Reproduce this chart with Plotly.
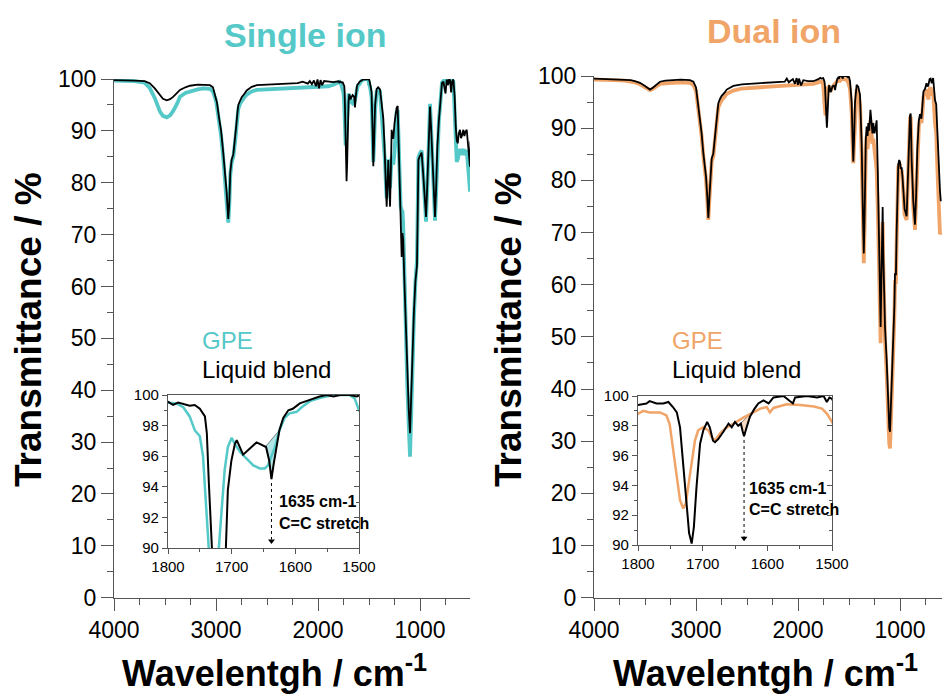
import numpy as np
import plotly.graph_objects as go

# ---------------- data (wavenumber cm-1, transmittance %) ----------------
single_liquid = [
    (4000, 99.8), (3900, 99.8), (3800, 99.7), (3700, 99.6), (3650, 99.2), (3600, 98.2),
    (3550, 96.9), (3520, 96.2), (3483, 95.9), (3450, 96.1), (3418, 96.6), (3380, 97.4),
    (3353, 97.9), (3300, 98.4), (3255, 98.7), (3180, 98.9), (3124, 98.9), (3059, 98.8),
    (3030, 98.4), (3000, 96.5), (2990, 95.4), (2970, 92.5), (2950, 90.0), (2930, 86.0),
    (2910, 81.5), (2895, 78.0), (2880, 73.0), (2870, 76.0), (2860, 82.0), (2846, 84.5),
    (2830, 85.5), (2815, 88.0), (2804, 90.5), (2790, 93.5), (2781, 95.0), (2760, 96.0),
    (2748, 96.5), (2720, 97.2), (2699, 97.8), (2650, 98.5), (2600, 98.8), (2500, 98.9),
    (2400, 99.0), (2300, 99.1), (2200, 99.2), (2150, 99.5), (2100, 99.1), (2080, 99.6),
    (2060, 99.0), (2040, 99.7), (2020, 98.6), (2005, 99.9), (1990, 98.2), (1975, 99.8),
    (1960, 98.8), (1940, 99.6), (1900, 99.5), (1850, 99.4),
    (1800, 99.55), (1792, 99.35), (1784, 99.5), (1776, 99.4), (1766, 99.3), (1758, 99.35),
    (1750, 99.1), (1742, 98.6), (1739, 97.5), (1736, 94.4), (1732, 89.0), (1726, 83.0),
    (1720, 80.3), (1714, 84.0), (1709, 90.1), (1706, 93.8), (1700.5, 95.7), (1695, 96.8),
    (1692, 97.05), (1687.5, 96.6), (1682, 96.1), (1674, 96.4), (1666, 96.7), (1661, 96.9),
    (1656, 96.8), (1651, 96.7), (1646, 96.6), (1641, 95.7), (1637.5, 94.5), (1634, 95.5),
    (1630, 96.6), (1625, 97.7), (1619, 98.5), (1611, 99.0), (1604, 99.1), (1593, 99.45),
    (1583, 99.6), (1562, 99.9), (1551, 100.0), (1540, 99.9), (1530, 100.0), (1515, 100.0),
    (1503, 99.9), (1500, 100.0),
    (1490, 99.2), (1475, 97.5), (1465, 90.0), (1458, 83.2), (1450, 88.0), (1440, 95.0),
    (1425, 98.1), (1410, 98.4), (1392, 98.0), (1380, 95.5), (1370, 93.2), (1360, 92.4),
    (1350, 88.0), (1340, 82.0), (1327, 75.4), (1318, 80.0), (1311, 84.4), (1302, 80.0),
    (1294, 75.4), (1286, 82.0), (1278, 90.2), (1270, 89.0), (1262, 88.5), (1250, 91.5),
    (1240, 93.0), (1230, 94.4), (1219, 94.8), (1210, 88.0), (1200, 78.0), (1190, 71.0),
    (1180, 65.7), (1172, 70.3), (1165, 69.0), (1155, 62.0), (1140, 52.0), (1125, 43.0),
    (1110, 36.0), (1098, 31.7), (1088, 38.0), (1075, 47.0), (1060, 55.0), (1045, 61.0),
    (1036, 62.5), (1030, 64.0), (1022, 75.0), (1016, 84.4), (1005, 85.0), (992, 85.6),
    (984, 85.8), (970, 82.0), (955, 77.0), (941, 73.4), (928, 80.0), (915, 88.0),
    (902, 94.7), (890, 90.0), (875, 82.0), (862, 76.0), (853, 73.4), (842, 79.0),
    (830, 87.0), (815, 92.0), (804, 94.7), (795, 97.8), (785, 99.2), (771, 99.5),
    (760, 98.2), (750, 97.2), (738, 99.9), (725, 98.8), (715, 100.0), (706, 99.8),
    (695, 97.4), (685, 99.5), (673, 99.9), (660, 96.5), (650, 91.0), (640, 88.2),
    (630, 87.6), (620, 89.5), (608, 90.2), (598, 88.6), (590, 89.0), (575, 90.2),
    (565, 89.0), (555, 89.8), (542, 90.2), (530, 88.0), (520, 86.0), (510, 83.1), (505, 88.0),
]

single_gpe = [
    (4000, 99.7), (3900, 99.7), (3800, 99.6), (3700, 99.3), (3650, 98.3), (3600, 96.3),
    (3582, 95.3), (3549, 93.7), (3520, 92.9), (3483, 92.6), (3450, 93.0), (3418, 93.9),
    (3380, 95.3), (3353, 96.6), (3300, 97.3), (3255, 97.6), (3180, 98.0), (3124, 98.2),
    (3059, 98.1), (3030, 97.6), (3000, 95.8), (2990, 94.5), (2970, 91.8), (2950, 89.0),
    (2930, 85.0), (2910, 80.5), (2895, 77.0), (2880, 72.3), (2870, 75.5), (2860, 81.5),
    (2846, 84.0), (2830, 85.0), (2815, 87.5), (2804, 90.0), (2790, 93.0), (2781, 94.3),
    (2760, 95.4), (2748, 95.8), (2720, 96.5), (2699, 97.0), (2650, 97.6), (2600, 97.9),
    (2500, 98.0), (2400, 98.1), (2300, 98.2), (2200, 98.3), (2100, 98.4), (2000, 98.5),
    (1900, 98.6), (1850, 98.9),
    (1800, 99.5), (1787, 99.45), (1776, 99.2), (1766, 98.6), (1758, 97.7), (1750, 97.3),
    (1745, 96.0), (1741, 93.3), (1737, 89.5), (1733, 88.0), (1729, 87.2), (1724, 88.5),
    (1720, 90.1), (1715, 93.0), (1711, 95.1), (1706, 96.6), (1700, 97.2), (1695, 96.8),
    (1687, 96.3), (1677, 95.85), (1666, 95.4), (1656, 95.2), (1648, 95.2), (1643, 95.4),
    (1637, 96.0), (1632, 96.6), (1625, 97.7), (1617, 98.5), (1609, 98.8), (1598, 98.9),
    (1590, 99.2), (1577, 99.6), (1562, 99.8), (1541, 100.0), (1515, 100.0), (1507, 99.8),
    (1500, 99.0),
    (1490, 98.5), (1475, 96.5), (1465, 89.0), (1458, 84.0), (1450, 87.5), (1440, 94.0),
    (1425, 97.6), (1410, 98.0), (1392, 97.6), (1380, 94.5), (1370, 91.0), (1360, 88.0),
    (1350, 85.0), (1343, 84.0), (1335, 80.0), (1327, 77.0), (1318, 82.0), (1311, 84.5),
    (1302, 82.0), (1294, 79.0), (1286, 82.0), (1278, 85.0), (1270, 84.5), (1262, 83.5),
    (1250, 86.0), (1240, 90.0), (1230, 93.5), (1219, 94.0), (1210, 88.0), (1200, 80.0),
    (1190, 75.5), (1180, 74.7), (1172, 74.5), (1165, 72.0), (1155, 63.0), (1140, 52.0),
    (1125, 41.0), (1110, 33.0), (1098, 27.2), (1088, 34.0), (1075, 45.0), (1060, 54.0),
    (1045, 61.0), (1036, 63.0), (1030, 65.0), (1022, 76.0), (1016, 84.8), (1005, 85.5),
    (992, 86.0), (984, 86.2), (970, 82.0), (955, 76.0), (941, 72.5), (928, 79.0),
    (915, 88.0), (902, 95.2), (890, 90.0), (875, 81.0), (862, 75.0), (853, 72.7),
    (842, 78.0), (830, 86.0), (815, 92.0), (804, 94.5), (795, 97.6), (785, 99.3),
    (771, 99.6), (760, 99.2), (750, 99.0), (738, 100.0), (725, 99.6), (715, 100.0),
    (706, 100.0), (695, 99.2), (685, 99.7), (673, 99.5), (660, 94.0), (650, 87.0),
    (640, 84.0), (630, 84.6), (620, 86.0), (608, 86.5), (598, 85.4), (590, 86.0),
    (575, 86.5), (565, 85.3), (555, 86.0), (542, 86.2), (530, 84.0), (520, 81.0),
    (510, 78.3), (505, 82.0),
]

dual_liquid = [
    (4000, 99.5), (3900, 99.4), (3800, 99.4), (3700, 99.3), (3640, 99.2), (3600, 99.0),
    (3549, 98.7), (3500, 98.1), (3451, 97.4), (3420, 97.8), (3380, 98.5), (3353, 98.9),
    (3300, 99.1), (3255, 99.2), (3150, 99.3), (3059, 99.2), (3026, 98.9), (3000, 97.8),
    (2993, 96.7), (2975, 94.0), (2961, 92.2), (2945, 89.0), (2928, 85.2), (2902, 80.7),
    (2890, 77.0), (2879, 72.8), (2868, 77.0), (2856, 82.0), (2846, 84.2), (2830, 85.2),
    (2815, 87.5), (2804, 90.3), (2790, 93.0), (2781, 94.8), (2765, 95.6), (2748, 96.2),
    (2720, 96.8), (2699, 97.4), (2634, 98.1), (2550, 98.4), (2405, 98.6), (2300, 98.7),
    (2200, 98.8), (2130, 98.9), (2110, 99.5), (2090, 98.8), (2078, 99.0), (2050, 99.4),
    (2030, 98.5), (2013, 99.6), (2000, 98.3), (1990, 99.5), (1970, 98.2), (1948, 99.2),
    (1900, 99.0), (1850, 99.0),
    (1800, 99.4), (1787, 99.5), (1782, 99.66), (1771.5, 99.5), (1761, 99.5), (1753, 99.6),
    (1746, 99.26), (1740, 98.9), (1735, 97.9), (1730, 95.5), (1725, 92.6), (1721, 90.8),
    (1717, 90.1), (1713.6, 91.2), (1709.5, 93.9), (1704, 96.8), (1699, 97.7), (1693, 98.26),
    (1689, 97.9), (1684, 97.0), (1681, 96.9), (1676, 97.1), (1668, 97.6), (1660, 98.15),
    (1655, 97.9), (1650, 98.26), (1645, 98.0), (1641, 98.15), (1638, 97.6), (1636, 97.3),
    (1632, 97.9), (1627, 98.6), (1620.5, 99.1), (1614, 99.5), (1606, 99.7), (1598, 99.5),
    (1590.5, 99.9), (1575, 100.0), (1560.5, 99.5), (1557, 99.9), (1539, 100.0),
    (1523, 99.9), (1513, 100.0), (1508, 99.6), (1504, 99.9), (1500, 99.8),
    (1490, 99.0), (1474, 95.0), (1465, 88.0), (1458, 83.6), (1450, 88.0), (1441, 95.0),
    (1425, 98.3), (1409, 97.9), (1392, 96.4), (1376, 87.1), (1365, 75.0), (1355, 66.0),
    (1348, 72.0), (1343, 80.7), (1335, 88.0), (1327, 90.3), (1318, 88.5), (1311, 91.0),
    (1302, 89.5), (1290, 93.5), (1280, 90.0), (1270, 89.0), (1262, 91.0), (1250, 89.0),
    (1240, 90.0), (1229, 91.5), (1218, 82.0), (1205, 67.0), (1196, 55.0), (1190, 51.9),
    (1183, 60.0), (1176, 70.0), (1170, 74.9), (1164, 66.0), (1155, 56.0), (1147, 51.9),
    (1131, 45.6), (1115, 36.0), (1105, 32.5), (1098, 31.8), (1090, 36.0), (1082, 42.0),
    (1066, 47.5), (1055, 56.0), (1049, 62.2), (1040, 61.8), (1033, 70.0), (1026, 80.0),
    (1017, 83.0), (1008, 83.9), (1000, 83.5), (993, 82.2), (984, 82.5), (975, 80.5),
    (968, 77.5), (955, 74.5), (935, 73.1), (925, 80.0), (915, 88.0), (902, 92.5),
    (895, 92.8), (886, 84.0), (870, 76.0), (853, 71.5), (842, 77.0), (830, 86.0),
    (815, 91.5), (804, 92.7), (790, 91.8), (780, 94.0), (770, 97.0), (755, 97.5),
    (740, 98.6), (730, 98.0), (722, 98.2), (710, 99.4), (700, 99.5), (689, 98.6),
    (675, 99.6), (657, 95.4), (645, 94.6), (635, 90.0), (624, 84.0), (615, 81.0),
    (608, 78.0), (600, 76.0),
]

dual_gpe = [
    (4000, 99.3), (3900, 99.3), (3800, 99.2), (3700, 99.1), (3640, 99.0), (3600, 98.8),
    (3549, 98.4), (3500, 97.9), (3451, 97.3), (3420, 97.6), (3380, 98.2), (3353, 98.5),
    (3300, 98.6), (3255, 98.7), (3150, 98.8), (3059, 98.7), (3026, 98.3), (3000, 97.2),
    (2993, 96.2), (2975, 93.5), (2961, 91.7), (2945, 88.5), (2928, 84.6), (2902, 80.2),
    (2890, 76.5), (2879, 72.4), (2868, 76.5), (2856, 81.5), (2846, 83.7), (2830, 84.6),
    (2815, 87.0), (2804, 89.7), (2790, 92.4), (2781, 94.0), (2765, 94.8), (2748, 95.4),
    (2720, 96.0), (2699, 96.6), (2634, 97.2), (2550, 97.6), (2405, 97.8), (2300, 97.9),
    (2200, 98.0), (2100, 98.1), (2000, 98.2), (1900, 98.3), (1850, 98.5),
    (1800, 98.8), (1792, 99.0), (1782, 98.9), (1766, 98.9), (1756, 98.7), (1751, 98.1),
    (1746, 96.6), (1740.5, 94.6), (1735, 93.0), (1730, 92.45), (1726, 92.8), (1722.4, 93.9),
    (1717, 95.5), (1712, 97.0), (1707, 97.7), (1699, 97.9), (1691.4, 97.7), (1686, 97.25),
    (1681, 97.0), (1673, 97.5), (1665.5, 97.8), (1652.6, 98.15), (1637, 98.55),
    (1621.5, 98.9), (1611, 99.15), (1601, 99.26), (1596, 98.9), (1590.5, 99.2),
    (1580, 99.3), (1570, 99.44), (1549, 99.4), (1528, 99.3), (1515.5, 99.15),
    (1507.7, 98.8), (1500, 98.26),
    (1490, 97.5), (1474, 93.0), (1465, 87.0), (1458, 83.3), (1450, 87.0), (1441, 93.0),
    (1425, 97.5), (1409, 96.8), (1392, 94.5), (1376, 85.0), (1365, 73.0), (1355, 64.1),
    (1348, 70.0), (1343, 79.0), (1335, 86.0), (1327, 88.5), (1318, 86.0), (1311, 88.0),
    (1302, 87.5), (1290, 91.5), (1280, 88.0), (1270, 87.0), (1262, 88.0), (1250, 86.0),
    (1240, 84.0), (1229, 82.0), (1218, 75.0), (1205, 62.0), (1196, 52.0), (1190, 48.8),
    (1183, 57.0), (1176, 67.0), (1170, 72.0), (1164, 64.0), (1155, 54.0), (1147, 49.5),
    (1131, 43.0), (1115, 33.0), (1105, 29.5), (1098, 28.6), (1090, 33.0), (1082, 40.0),
    (1066, 46.0), (1055, 54.0), (1049, 60.5), (1040, 60.5), (1033, 68.0), (1026, 79.0),
    (1017, 82.5), (1008, 83.2), (1000, 83.0), (993, 81.5), (984, 82.0), (975, 80.0),
    (968, 76.5), (955, 73.5), (935, 72.4), (925, 79.0), (915, 87.5), (902, 92.0),
    (895, 92.2), (886, 83.0), (870, 75.0), (853, 70.5), (842, 76.0), (830, 85.0),
    (815, 90.5), (804, 91.8), (790, 91.0), (780, 93.0), (770, 96.0), (755, 97.0),
    (740, 97.4), (730, 96.5), (722, 95.5), (710, 97.5), (700, 97.8), (689, 96.8),
    (675, 97.0), (657, 91.0), (645, 89.0), (635, 83.0), (624, 76.0), (615, 72.0),
    (608, 69.7), (600, 70.0),
]

panel_titles = ["Single ion", "Dual ion"]
legend_labels = ["GPE", "Liquid blend"]
main_yticks = [0, 10, 20, 30, 40, 50, 60, 70, 80, 90, 100]
main_xticks = [4000, 3000, 2000, 1000]
inset_yticks = [90, 92, 94, 96, 98, 100]
inset_xticks = [1800, 1700, 1600, 1500]
peak_label = ["1635 cm-1", "C=C stretch"]
peak_wn = [1637.5, 1636]
fill_ranges = [(1647, 1625), (1645, 1622)]

TEAL = "#55c8c8"
ORANGE = "#f0a468"
FILL = ["rgba(85,200,200,0.45)", "rgba(240,164,104,0.40)"]
FONT = "Liberation Sans, Arial, sans-serif"
AX = "#555555"

W, H = 942, 695


def px_x(p):
    return p / W


def px_y(p):
    return 1 - p / H


def split(pairs):
    x, y = zip(*pairs)
    return list(x), list(y)


fig = go.Figure()

panels = [
    dict(gpe=single_gpe, liq=single_liquid, color=TEAL, main=("x", "y"), ins=("x3", "y3")),
    dict(gpe=dual_gpe, liq=dual_liquid, color=ORANGE, main=("x2", "y2"), ins=("x4", "y4")),
]

for i, p in enumerate(panels):
    gx, gy = split(p["gpe"])
    lx, ly = split(p["liq"])
    fig.add_trace(go.Scatter(x=gx, y=gy, mode="lines", line=dict(color=p["color"], width=3.8),
                             xaxis=p["main"][0], yaxis=p["main"][1], showlegend=False))
    fig.add_trace(go.Scatter(x=lx, y=ly, mode="lines", line=dict(color="black", width=1.8),
                             xaxis=p["main"][0], yaxis=p["main"][1], showlegend=False))
    a, b = fill_ranges[i]
    lxa = np.array(lx)[::-1]
    lya = np.array(ly)[::-1]
    ya = float(np.interp(a, lxa, lya))
    yb = float(np.interp(b, lxa, lya))
    m = (lxa < a) & (lxa > b)
    seg_x = [a] + list(lxa[m][::-1]) + [b]
    seg_y = [ya] + list(lya[m][::-1]) + [yb]
    fig.add_trace(go.Scatter(x=seg_x + [a], y=seg_y + [ya], mode="lines", fill="toself",
                             fillcolor=FILL[i], line=dict(color="rgba(60,60,60,0.8)", width=0.8),
                             xaxis=p["ins"][0], yaxis=p["ins"][1], showlegend=False))
    fig.add_trace(go.Scatter(x=gx, y=gy, mode="lines", line=dict(color=p["color"], width=2.5),
                             xaxis=p["ins"][0], yaxis=p["ins"][1], showlegend=False))
    fig.add_trace(go.Scatter(x=lx, y=ly, mode="lines", line=dict(color="black", width=2),
                             xaxis=p["ins"][0], yaxis=p["ins"][1], showlegend=False))
    top = float(np.interp(peak_wn[i], lxa, lya)) - 0.25
    fig.add_trace(go.Scatter(x=[peak_wn[i], peak_wn[i]], y=[top, 90.55], mode="lines",
                             line=dict(color="black", width=1, dash="dot"),
                             xaxis=p["ins"][0], yaxis=p["ins"][1], showlegend=False))
    fig.add_trace(go.Scatter(x=[peak_wn[i]], y=[90.45], mode="markers",
                             marker=dict(symbol="triangle-down", size=6, color="black"),
                             xaxis=p["ins"][0], yaxis=p["ins"][1], showlegend=False))

main_x_common = dict(
    tickmode="array", tickvals=main_xticks, ticks="outside", ticklen=12, tickwidth=1.3,
    tickcolor=AX, showline=True, linecolor=AX, linewidth=1.3, showgrid=False, zeroline=False,
    automargin=False, tickfont=dict(family=FONT, size=23, color="black"),
    minor=dict(dtick=250, ticks="outside", ticklen=6, tickcolor=AX, tickwidth=1.3, showgrid=False),
)
main_y_common = dict(
    tickmode="array", tickvals=main_yticks, ticks="outside", ticklen=12, tickwidth=1.3,
    tickcolor=AX, showline=True, linecolor=AX, linewidth=1.3, showgrid=False, zeroline=False,
    automargin=False, range=[0, 100], tickfont=dict(family=FONT, size=23, color="black"),
    minor=dict(dtick=5, ticks="outside", ticklen=6, tickcolor=AX, tickwidth=1.3, showgrid=False),
)
ins_x_common = dict(
    tickmode="array", tickvals=inset_xticks, ticks="outside", ticklen=5, tickwidth=1,
    tickcolor=AX, showline=True, linecolor=AX, linewidth=1.3, mirror=True, showgrid=False,
    zeroline=False, automargin=False, range=[1800, 1500],
    tickfont=dict(family=FONT, size=15, color="black"),
    minor=dict(dtick=50, ticks="outside", ticklen=3, tickcolor=AX, showgrid=False),
)
ins_y_common = dict(
    tickmode="array", tickvals=inset_yticks, ticks="outside", ticklen=5, tickwidth=1,
    tickcolor=AX, showline=True, linecolor=AX, linewidth=1.3, mirror=True, showgrid=False,
    zeroline=False, automargin=False, range=[90, 100],
    tickfont=dict(family=FONT, size=15, color="black"),
    minor=dict(dtick=1, ticks="outside", ticklen=3, tickcolor=AX, showgrid=False),
)
ins_y_right = dict(
    tickmode="array", tickvals=inset_yticks, ticks="inside", ticklen=5, tickwidth=1,
    tickcolor=AX, showline=False, showgrid=False, zeroline=False, automargin=False,
    showticklabels=False, range=[90, 100], side="right",
    minor=dict(dtick=1, ticks="inside", ticklen=3, tickcolor=AX, showgrid=False),
)

fig.update_layout(
    width=W, height=H, margin=dict(l=0, r=0, t=0, b=0, pad=0, autoexpand=False),
    paper_bgcolor="white", plot_bgcolor="white", showlegend=False,
    xaxis=dict(domain=[px_x(114), px_x(470)], range=[4000, 510], anchor="y", **main_x_common),
    yaxis=dict(domain=[px_y(597.7), px_y(79)], anchor="x", **main_y_common),
    xaxis2=dict(domain=[px_x(594), 1.0], range=[4000, 4000 - 348 / 0.102], anchor="y2",
                **main_x_common),
    yaxis2=dict(domain=[px_y(597.7), px_y(76)], anchor="x2", **main_y_common),
    xaxis3=dict(domain=[px_x(168), px_x(359)], anchor="y3", **ins_x_common),
    yaxis3=dict(domain=[px_y(548), px_y(395)], anchor="x3", **ins_y_common),
    xaxis4=dict(domain=[px_x(638), px_x(832)], anchor="y4", **ins_x_common),
    yaxis4=dict(domain=[px_y(545), px_y(396)], anchor="x4", **ins_y_common),
    yaxis5=dict(overlaying="y3", anchor="x3", **ins_y_right),
    yaxis6=dict(overlaying="y4", anchor="x4", **ins_y_right),
)

# invisible helpers so the right-hand inset tick axes are drawn
for xa, ya in (("x3", "y5"), ("x4", "y6")):
    fig.add_trace(go.Scatter(x=[1800], y=[95], mode="markers", marker=dict(opacity=0),
                             xaxis=xa, yaxis=ya, showlegend=False, hoverinfo="skip"))


def note(text, x, y, size, color="black", xanchor="center", angle=0):
    return dict(text=text, x=px_x(x), y=px_y(y), xref="paper", yref="paper",
                xanchor=xanchor, yanchor="middle", showarrow=False, textangle=angle,
                font=dict(family=FONT, size=size, color=color))


ann = [
    note("<b>%s</b>" % panel_titles[0], 305, 35, 34, TEAL),
    note("<b>%s</b>" % panel_titles[1], 774, 31, 34, ORANGE),
]
for cx in (29, 509):
    ann.append(note("<b>Transmittance / %</b>", cx, 330, 37, angle=-90))
for cx in (274, 765):
    ann.append(note("<b>Wavelentgh / cm<sup>-1</sup></b>", cx, 671, 36))
for lx0, col in ((200, TEAL), (670, ORANGE)):
    ann.append(note(legend_labels[0], lx0, 340, 24, col, xanchor="left"))
    ann.append(note(legend_labels[1], lx0, 369, 24, "black", xanchor="left"))
for (tx, ty1, ty2) in ((277, 501, 523), (747, 488, 509)):
    ann.append(note("<b>%s</b>" % peak_label[0], tx, ty1, 16, xanchor="left"))
    ann.append(note("<b>%s</b>" % peak_label[1], tx, ty2, 16, xanchor="left"))

fig.update_layout(annotations=ann)
fig.write_html("out.html")
